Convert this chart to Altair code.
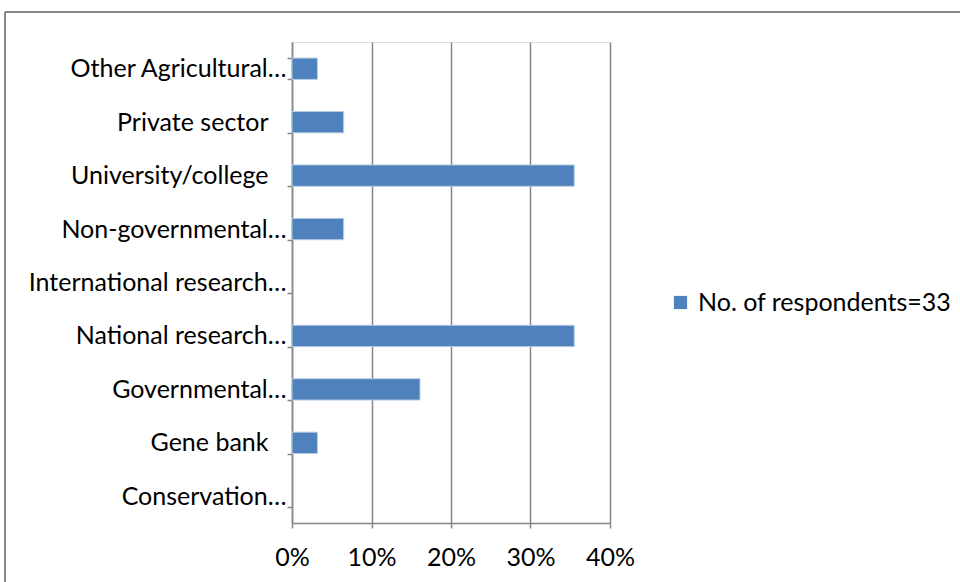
import altair as alt
import pandas as pd

categories = [
    "Other Agricultural…",
    "Private sector",
    "University/college",
    "Non-governmental…",
    "International research…",
    "National research…",
    "Governmental…",
    "Gene bank",
    "Conservation…",
]
values = [0.032, 0.065, 0.355, 0.065, 0.0, 0.355, 0.161, 0.032, 0.0]
series_name = "No. of respondents=33"
x_ticks = [0, 0.1, 0.2, 0.3, 0.4]

df = pd.DataFrame({"category": categories, "value": values, "series": series_name})

FONT = "Lato"
FS = 25
GRID = "#868686"

short_labels = "['Private sector', 'University/college', 'Gene bank']"

bars = alt.Chart(df).mark_bar(
    fill="#4F81BD", stroke="#B9CDE5", strokeWidth=1
).encode(
    y=alt.Y(
        "category:N",
        sort=categories,
        title=None,
        scale=alt.Scale(paddingInner=0.6, paddingOuter=0.3),
        axis=alt.Axis(
            tickBand="extent",
            tickSize=5,
            tickColor=GRID,
            tickWidth=1.5,
            domainColor=GRID,
            domainWidth=1.5,
            labelFont=FONT,
            labelFontSize=FS,
            labelColor="#000000",
            labelPadding={
                "condition": {
                    "test": f"indexof({short_labels}, datum.value) >= 0",
                    "value": 19,
                },
                "value": 1,
            },
            labelLimit=400,
        ),
    ),
    x=alt.X(
        "value:Q",
        title=None,
        scale=alt.Scale(domain=[0, 0.4], nice=False),
        axis=alt.Axis(
            values=x_ticks,
            format=".0%",
            grid=True,
            gridColor=GRID,
            gridWidth=1.5,
            tickSize=5,
            tickColor=GRID,
            tickWidth=1.5,
            domainColor=GRID,
            domainWidth=1.5,
            labelFont=FONT,
            labelFontSize=FS,
            labelColor="#000000",
            labelPadding=17,
            labelFlush=False,
            labelOverlap=False,
        ),
    ),
    strokeOpacity=alt.condition(alt.datum.value > 0, alt.value(1), alt.value(0)),
    color=alt.Color(
        "series:N",
        title=None,
        scale=alt.Scale(range=["#4F81BD"]),
        legend=alt.Legend(
            orient="none",
            legendX=376,
            legendY=248,
            symbolType="square",
            symbolSize=175,
            symbolStrokeWidth=0,
            labelFont=FONT,
            labelFontSize=FS,
            labelColor="#000000",
            labelOffset=5,
            padding=0,
            labelLimit=400,
        ),
    ),
)

frame = alt.Chart(df).mark_rule(color=GRID, strokeWidth=1.5).encode(
    x=alt.value(-287), x2=alt.value(700), y=alt.value(-30)
)
frame_left = alt.Chart(df).mark_rule(color=GRID, strokeWidth=1.5).encode(
    x=alt.value(-287), y=alt.value(-30), y2=alt.value(600)
)

chart = alt.layer(frame, frame_left, bars).properties(
    width=318,
    height=481,
    autosize=alt.AutoSizeParams(type="none"),
    padding={"left": 292, "top": 42, "right": 350, "bottom": 59},
).configure_view(stroke=None).configure(background="white")

chart.save("out.html", embed_options={"renderer": "svg", "actions": False})
